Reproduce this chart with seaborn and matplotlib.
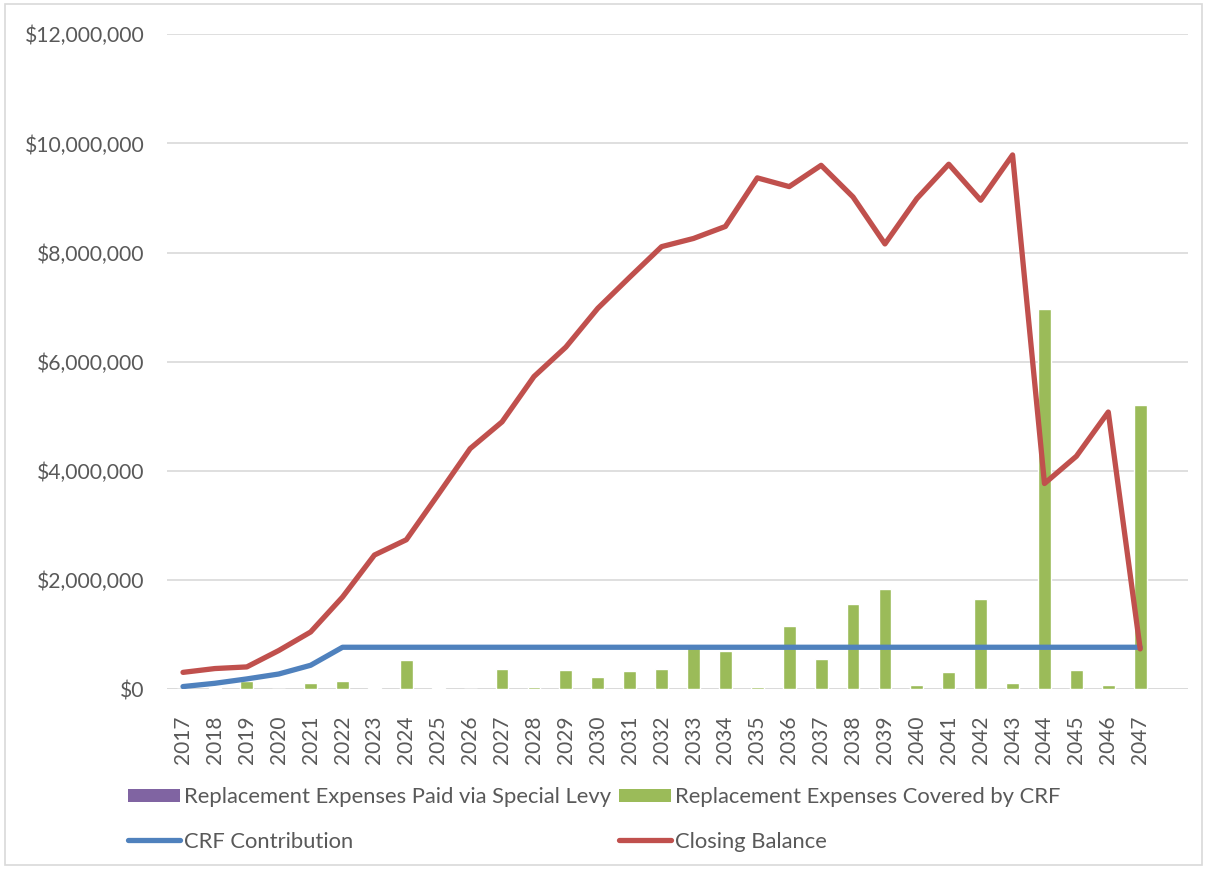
import numpy as np
import pandas as pd
import matplotlib
matplotlib.use("Agg")
import matplotlib.pyplot as plt
from matplotlib.lines import Line2D
from matplotlib.patches import Patch, Rectangle
from matplotlib.ticker import FuncFormatter
import seaborn as sns

# ---- data -------------------------------------------------------------
years = list(range(2017, 2048))

special_levy = [0.0] * len(years)

covered_by_crf = [
    0.00, 0.03, 0.15, 0.00, 0.12, 0.15, 0.03, 0.53, 0.02, 0.00,
    0.37, 0.04, 0.35, 0.22, 0.33, 0.37, 0.79, 0.71, 0.05, 1.16,
    0.55, 1.56, 1.83, 0.08, 0.32, 1.65, 0.12, 6.97, 0.36, 0.07,
    5.20,
]

crf_contribution = [
    0.05, 0.11, 0.19, 0.28, 0.44, 0.77, 0.77, 0.77, 0.77, 0.77,
    0.77, 0.77, 0.77, 0.77, 0.77, 0.77, 0.77, 0.77, 0.77, 0.77,
    0.77, 0.77, 0.77, 0.77, 0.77, 0.77, 0.77, 0.77, 0.77, 0.77,
    0.77,
]

closing_balance = [
    0.31, 0.38, 0.41, 0.71, 1.05, 1.69, 2.46, 2.74, 3.57, 4.41,
    4.90, 5.73, 6.27, 6.98, 7.55, 8.11, 8.26, 8.48, 9.37, 9.21,
    9.60, 9.02, 8.16, 8.99, 9.62, 8.96, 9.79, 3.77, 4.27, 5.08,
    0.74,
]

y_ticks = [0, 2e6, 4e6, 6e6, 8e6, 10e6, 12e6]

labels = {
    "levy": "Replacement Expenses Paid via Special Levy",
    "crf": "Replacement Expenses Covered by CRF",
    "contrib": "CRF Contribution",
    "balance": "Closing Balance",
}

colors = {
    "levy": "#8064A2",
    "crf": "#9BBB59",
    "contrib": "#4F81BD",
    "balance": "#C0504D",
}

M = 1_000_000
df = pd.DataFrame({
    "year": years,
    "levy": np.array(special_levy) * M,
    "crf": np.array(covered_by_crf) * M,
    "contrib": np.array(crf_contribution) * M,
    "balance": np.array(closing_balance) * M,
})
df["pos"] = np.arange(len(df))

# ---- figure -----------------------------------------------------------
sns.set_theme(style="white")
plt.rcParams["font.family"] = ["Lato", "DejaVu Sans"]
text_gray = "#595959"
grid_gray = "#D9D9D9"

fig = plt.figure(figsize=(12.07, 8.69), dpi=100)
ax = fig.add_axes([0.1384, 0.2068, 0.8459, 0.7537])

# stacked columns: special levy underneath, CRF-covered on top
sns.barplot(data=df, x="year", y="levy", color=colors["levy"], width=0.4,
            saturation=1, ax=ax, zorder=2)
sns.barplot(data=df, x="year", y="crf", color=colors["crf"], width=0.4,
            saturation=1, ax=ax, zorder=2)

sns.lineplot(data=df, x="pos", y="contrib", color=colors["contrib"],
             linewidth=3.8, ax=ax, zorder=4, solid_capstyle="round",
             solid_joinstyle="round")
sns.lineplot(data=df, x="pos", y="balance", color=colors["balance"],
             linewidth=3.8, ax=ax, zorder=5, solid_capstyle="round",
             solid_joinstyle="round")

ax.set_xlim(-0.5, len(years) + 0.5)
ax.set_ylim(0, 12e6)
ax.set_yticks(y_ticks)
ax.yaxis.set_major_formatter(FuncFormatter(lambda v, _: f"${v:,.0f}"))
ax.set_xticks(df["pos"])
ax.set_xticklabels([str(y) for y in years], rotation=90)

ax.grid(axis="y", color=grid_gray, linewidth=1.2, zorder=0)
ax.grid(axis="x", visible=False)
ax.axhline(0, color=grid_gray, linewidth=1.8, zorder=1)
for s in ax.spines.values():
    s.set_visible(False)

ax.set_xlabel("")
ax.set_ylabel("")
ax.tick_params(axis="y", length=0, pad=16, labelsize=15.2, labelcolor=text_gray)
ax.tick_params(axis="x", length=0, pad=19, labelsize=15, labelcolor=text_gray)

# legend: two rows, two columns
handles = [
    Patch(facecolor=colors["levy"], edgecolor="none"),
    Line2D([], [], color=colors["contrib"], linewidth=3.8, solid_capstyle="round"),
    Patch(facecolor=colors["crf"], edgecolor="none"),
    Line2D([], [], color=colors["balance"], linewidth=3.8, solid_capstyle="round"),
]
leg_labels = [labels["levy"], labels["contrib"], labels["crf"], labels["balance"]]
fig.legend(handles, leg_labels, ncol=2, loc="upper left",
           bbox_to_anchor=(128 / 1207, 1 - 787 / 869), frameon=False,
           fontsize=15.8, labelcolor=text_gray, handlelength=2.35,
           handleheight=0.55, handletextpad=0.18, columnspacing=0.4,
           labelspacing=1.12, borderpad=0.0, borderaxespad=0.0)

# thin frame around the whole chart
fig.add_artist(Rectangle((5 / 1207, 4 / 869), 1197 / 1207, 861 / 869,
                         transform=fig.transFigure, fill=False,
                         edgecolor=grid_gray, linewidth=1.2))

fig.savefig("out.png", dpi=100)
